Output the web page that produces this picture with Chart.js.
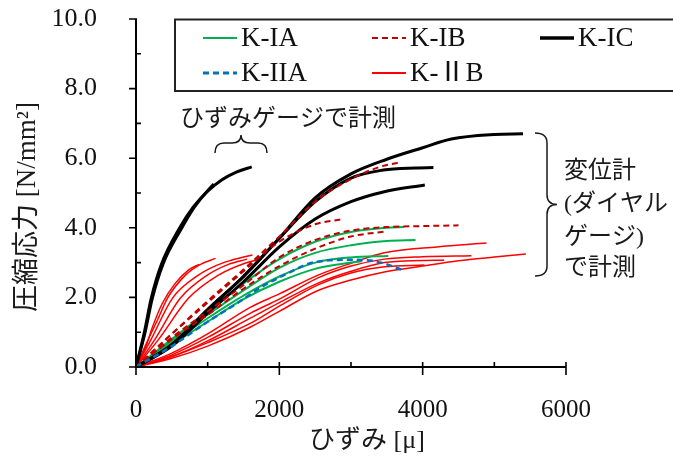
<!DOCTYPE html>
<html>
<head>
<meta charset="utf-8">
<script src="https://cdn.jsdelivr.net/npm/chart.js@4"></script>
<style>
  html, body { margin: 0; padding: 0; background: #fff; }
  #wrap { width: 673px; height: 457px; }
</style>
</head>
<body>
<div id="wrap"><canvas id="stressChart" width="673" height="457"></canvas></div>
<script>
// strain [µ] vs compressive stress [N/mm2], one array per specimen curve

// K-IA (green)
const kIA_1 = [[0,0],[500,0.8],[1000,1.6],[1500,2.4],[2000,3.1],[2500,3.6],[3000,3.88],[3500,4.0],[3740,4.02]];
const kIA_2 = [[0,0],[500,0.75],[1000,1.5],[1500,2.2],[2000,2.85],[2500,3.28],[3000,3.5],[3500,3.62],[3900,3.65]];
const kIA_3 = [[0,0],[500,0.7],[1000,1.4],[1500,2.05],[2000,2.6],[2500,3.0],[3000,3.15],[3520,3.19]];
const kIA_4 = [[0,0],[500,0.65],[1000,1.3],[1500,1.95],[2000,2.45],[2500,2.82],[3000,3.0],[3150,3.04]];

// K-IB (dark red dashed)
const kIB_1 = [[0,0],[500,0.95],[1000,1.9],[1500,2.8],[2000,3.75],[2500,4.75],[3000,5.4],[3400,5.75],[3680,5.88]];
const kIB_2 = [[0,0],[500,0.95],[1000,1.85],[1500,2.75],[2000,3.6],[2500,4.1],[2890,4.25]];
const kIB_3 = [[0,0],[500,0.85],[1000,1.6],[1500,2.35],[2000,3.15],[2500,3.65],[3000,3.92],[3500,4.02],[4000,4.05],[4500,4.07]];
const kIB_4 = [[0,0],[500,0.8],[1000,1.5],[1500,2.25],[2000,2.9],[2500,3.4],[3000,3.75],[3500,3.9]];

// K-IC (black) - first two by strain gauge, the rest by dial gauge
const kIC_1 = [[0,0],[125,0.98],[225,1.95],[375,2.95],[640,4.0],[800,4.55],[950,4.95],[1085,5.26]];
const kIC_2 = [[0,0],[115,0.98],[210,1.95],[355,2.95],[610,4.0],[800,4.6],[1000,5.05],[1200,5.38],[1400,5.6],[1615,5.75]];
const kIC_3 = [[0,0],[500,0.65],[1000,1.65],[1500,2.6],[2000,3.7],[2500,4.86],[3000,5.55],[3500,5.97],[4000,6.3],[4400,6.55],[5000,6.68],[5400,6.7]];
const kIC_4 = [[0,0],[500,0.62],[1000,1.65],[1500,2.6],[2000,3.7],[2500,4.75],[3000,5.43],[3450,5.66],[3900,5.72],[4150,5.73]];
const kIC_5 = [[0,0],[500,0.6],[1000,1.55],[1500,2.45],[2000,3.45],[2500,4.25],[3000,4.75],[3450,5.03],[4030,5.23]];

// K-IIA (blue dashed)
const kIIA_1 = [[0,0],[500,0.6],[1000,1.3],[1500,1.95],[1750,2.3],[2125,2.7],[2445,2.99],[3000,3.08],[3300,3.05],[3500,2.95],[3700,2.8]];

// K-IIB (red) - steep ones by strain gauge, flat ones by dial gauge
const kIIB_1 = [[0,0],[135,0.57],[230,1.15],[370,1.84],[550,2.41],[735,2.79],[880,2.95]];
const kIIB_2 = [[0,0],[150,0.7],[300,1.35],[440,1.98],[690,2.64],[900,2.95],[1110,3.12]];
const kIIB_3 = [[0,0],[200,0.75],[510,1.98],[870,2.64],[1100,2.9],[1300,3.05],[1625,3.22]];
const kIIB_4 = [[0,0],[250,0.75],[620,1.98],[995,2.64],[1290,2.95],[1550,3.1]];
const kIIB_5 = [[0,0],[300,0.75],[735,1.98],[1150,2.64],[1530,2.99],[1700,3.08]];
const kIIB_6 = [[0,0],[500,0.4],[1000,0.95],[1600,1.72],[2000,2.1],[2540,2.64],[3000,2.98],[3465,3.28],[4200,3.45],[4890,3.56]];
const kIIB_7 = [[0,0],[500,0.25],[1000,0.6],[1600,1.15],[2000,1.6],[2540,2.2],[3000,2.5],[3465,2.73],[4000,2.9],[4500,3.05],[5000,3.16],[5440,3.25]];
const kIIB_8 = [[0,0],[500,0.35],[1000,0.85],[1600,1.55],[2000,1.95],[2540,2.56],[3000,2.9],[3465,3.1],[4000,3.17],[4680,3.2]];
const kIIB_9 = [[0,0],[500,0.3],[1000,0.75],[1600,1.41],[2000,1.85],[2540,2.41],[3000,2.75],[3465,3.0],[4000,3.06],[4300,3.07]];
const kIIB_10 = [[0,0],[500,0.3],[1000,0.7],[1600,1.26],[2000,1.75],[2540,2.36],[3000,2.7],[3465,2.88],[4025,2.93]];

const xTicks = [0, 2000, 4000, 6000];
const yTicks = [0, 2, 4, 6, 8, 10];

const seriesStyles = {
    IA:  { label: 'K-IA',  color: '#00B050', width: 2,   dash: [] },
    IB:  { label: 'K-IB',  color: '#C00000', width: 2,   dash: [6, 4] },
    IC:  { label: 'K-IC',  color: '#000000', width: 3,   dash: [] },
    IIA: { label: 'K-IIA', color: '#0070C0', width: 2.5, dash: [6, 4] },
    IIB: { label: 'K-\u2161B', color: '#FF0000', width: 1.5, dash: [] }
};

// first entries end up on top
const groups = [
    ['IIA', [kIIA_1]],
    ['IB', [kIB_1, kIB_2, kIB_3, kIB_4]],
    ['IC', [kIC_1, kIC_2, kIC_3, kIC_4, kIC_5]],
    ['IA', [kIA_1, kIA_2, kIA_3, kIA_4]],
    ['IIB', [kIIB_1, kIIB_2, kIIB_3, kIIB_4, kIIB_5, kIIB_6, kIIB_7, kIIB_8, kIIB_9, kIIB_10]]
];

const datasets = [];
groups.forEach(([key, curves]) => {
    const st = seriesStyles[key];
    curves.forEach(c => {
        datasets.push({
            label: st.label,
            data: c,
            showLine: true,
            borderColor: st.color,
            backgroundColor: st.color,
            borderWidth: st.width,
            borderDash: st.dash,
            pointRadius: 0,
            cubicInterpolationMode: 'monotone',
            fill: false
        });
    });
});

const serif = "'Liberation Serif', 'Times New Roman', serif";
const jpFont = "'Liberation Serif', 'Noto Sans CJK JP'";

function hBrace(ctx, x1, x2, yTip, yEnd) {
    const xm = (x1 + x2) / 2, yb = (yTip + yEnd) / 2 - 1;
    ctx.beginPath();
    ctx.moveTo(x1, yEnd);
    ctx.quadraticCurveTo(x1, yb, x1 + 9, yb);
    ctx.lineTo(xm - 9, yb);
    ctx.quadraticCurveTo(xm, yb, xm, yTip);
    ctx.quadraticCurveTo(xm, yb, xm + 9, yb);
    ctx.lineTo(x2 - 9, yb);
    ctx.quadraticCurveTo(x2, yb, x2, yEnd);
    ctx.stroke();
}

function vBrace(ctx, xEnd, xTip, y1, y2) {
    const ym = (y1 + y2) / 2, xb = (xEnd + xTip) / 2 + 1;
    ctx.beginPath();
    ctx.moveTo(xEnd, y1);
    ctx.quadraticCurveTo(xb, y1, xb, y1 + 10);
    ctx.lineTo(xb, ym - 10);
    ctx.quadraticCurveTo(xb, ym, xTip, ym);
    ctx.quadraticCurveTo(xb, ym, xb, ym + 10);
    ctx.lineTo(xb, y2 - 10);
    ctx.quadraticCurveTo(xb, y2, xEnd, y2);
    ctx.stroke();
}

const decorations = {
    id: 'decorations',
    afterDraw(chart) {
        const ctx = chart.ctx;
        const xs = chart.scales.x, ys = chart.scales.y;
        const ax = xs.left, ay = ys.bottom;
        ctx.save();

        // axes
        ctx.strokeStyle = '#000';
        ctx.lineWidth = 2;
        ctx.beginPath();
        ctx.moveTo(ax, ys.top);
        ctx.lineTo(ax, ay);
        ctx.lineTo(xs.right, ay);
        ctx.stroke();

        ctx.lineWidth = 1.6;
        ctx.beginPath();
        for (let v = 0; v <= 6000; v += 1000) {
            const px = xs.getPixelForValue(v);
            const major = v % 2000 === 0;
            ctx.moveTo(px, ay - 5);
            ctx.lineTo(px, major ? ay + 8 : ay);
        }
        for (let v = 0; v <= 10; v += 1) {
            const py = ys.getPixelForValue(v);
            const major = v % 2 === 0;
            ctx.moveTo(major ? ax - 7 : ax, py);
            ctx.lineTo(ax + (major ? 1 : 5), py);
        }
        ctx.stroke();

        // axis titles
        ctx.fillStyle = '#1a1a1a';
        ctx.textAlign = 'center';
        ctx.textBaseline = 'middle';
        ctx.font = '26px ' + jpFont;
        ctx.fillText('ひずみ [μ]', 367, 441);
        ctx.save();
        ctx.translate(28, 207);
        ctx.rotate(-Math.PI / 2);
        ctx.font = '27px ' + jpFont;
        ctx.fillText('圧縮応力 [N/mm²]', 0, 0);
        ctx.restore();

        // legend box
        ctx.fillStyle = '#fff';
        ctx.fillRect(175, 19.5, 510, 71.5);
        ctx.strokeStyle = '#222';
        ctx.lineWidth = 2;
        ctx.strokeRect(175, 19.5, 510, 71.5);
        const items = [
            ['IA', 203, 38], ['IB', 372, 38], ['IC', 540, 38],
            ['IIA', 203, 73], ['IIB', 372, 73]
        ];
        ctx.textAlign = 'left';
        items.forEach(([key, x, y]) => {
            const st = seriesStyles[key];
            ctx.strokeStyle = st.color;
            ctx.lineWidth = key === 'IC' ? 3.5 : (key === 'IIA' ? 3 : 2);
            ctx.setLineDash(st.dash.length ? [6, 4] : []);
            ctx.beginPath();
            ctx.moveTo(x, y);
            ctx.lineTo(x + 34, y);
            ctx.stroke();
            ctx.setLineDash([]);
            ctx.fillStyle = '#111';
            ctx.font = '27px ' + jpFont;
            ctx.fillText(st.label, x + 38, y + 1);
        });

        // annotations
        ctx.fillStyle = '#1a1a1a';
        ctx.strokeStyle = '#1a1a1a';
        ctx.lineWidth = 1.5;
        ctx.font = '24px ' + jpFont;
        ctx.fillText('ひずみゲージで計測', 180, 120);
        hBrace(ctx, 215, 267, 135, 153);
        vBrace(ctx, 535, 557, 133, 276);
        ctx.fillText('変位計', 564, 172);
        ctx.fillText('(ダイヤル', 564, 205);
        ctx.fillText('ゲージ)', 564, 238);
        ctx.fillText('で計測', 564, 269);

        ctx.restore();
    }
};

Chart.defaults.font.family = serif;
Chart.defaults.color = '#000';

new Chart(document.getElementById('stressChart').getContext('2d'), {
    type: 'scatter',
    data: { datasets: datasets },
    options: {
        responsive: false,
        animation: false,
        events: [],
        layout: { padding: { top: 19, right: 107, left: 0, bottom: 0 } },
        plugins: {
            legend: { display: false },
            tooltip: { enabled: false },
            title: { display: false }
        },
        scales: {
            x: {
                type: 'linear',
                min: 0,
                max: 6000,
                afterFit: s => { s.height = 90; },
                afterBuildTicks: s => { s.ticks = xTicks.map(v => ({ value: v })); },
                grid: { display: false },
                border: { display: false },
                ticks: {
                    padding: 20,
                    font: { family: serif, size: 25 },
                    color: '#111',
                    maxRotation: 0,
                    callback: v => String(v)
                }
            },
            y: {
                type: 'linear',
                min: 0,
                max: 10,
                afterFit: s => { s.width = 136; s.paddingTop = 10; s.paddingBottom = 10; },
                afterBuildTicks: s => { s.ticks = yTicks.map(v => ({ value: v })); },
                grid: { display: false },
                border: { display: false },
                ticks: {
                    padding: 31,
                    font: { family: serif, size: 26 },
                    color: '#111',
                    callback: v => v.toFixed(1)
                }
            }
        }
    },
    plugins: [decorations]
});
</script>
</body>
</html>
